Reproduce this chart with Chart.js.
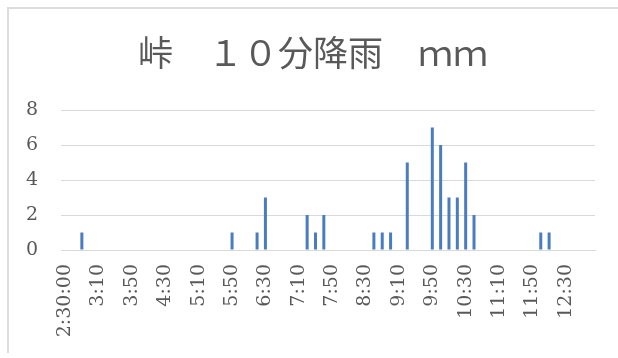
<!DOCTYPE html>
<html>
<head>
<meta charset="utf-8">
<script src="https://cdn.jsdelivr.net/npm/chart.js@4/dist/chart.umd.min.js"></script>
<style>
  html, body { margin: 0; padding: 0; background: #ffffff; overflow: hidden; }
  #wrap { position: relative; width: 618px; height: 358px; }
  #frame { position: absolute; left: 7px; top: 7px; width: 700px; height: 346px;
           border-left: 2px solid #dcdcdc; border-top: 2px solid #dcdcdc; box-sizing: border-box; }
  canvas { position: absolute; left: 0; top: 0; }
</style>
</head>
<body>
<div id="wrap">
  <div id="frame"></div>
  <canvas id="c" width="618" height="358"></canvas>
</div>
<script>
const chartTitle = "峠　１０分降雨　ｍｍ";

const categories = [
  "2:30:00","2:40","2:50","3:00","3:10","3:20","3:30","3:40",
  "3:50","4:00","4:10","4:20","4:30","4:40","4:50","5:00",
  "5:10","5:20","5:30","5:40","5:50","6:00","6:10","6:20",
  "6:30","6:40","6:50","7:00","7:10","7:20","7:30","7:40",
  "7:50","8:00","8:10","8:20","8:30","8:40","8:50","9:00",
  "9:10","9:20","9:30","9:40","9:50","10:00","10:10","10:20",
  "10:30","10:40","10:50","11:00","11:10","11:20","11:30","11:40",
  "11:50","12:00","12:10","12:20","12:30","12:40","12:50","13:00"
];

const rainfall = [
  0,0,1,0,0,0,0,0,
  0,0,0,0,0,0,0,0,
  0,0,0,0,1,0,0,1,
  3,0,0,0,0,2,1,2,
  0,0,0,0,0,1,1,1,
  0,5,0,0,7,6,3,3,
  5,2,0,0,0,0,0,0,
  0,1,1,0,0,0,0,0
];

const yTicks = [0, 2, 4, 6, 8];
const labelEvery = 4;

const grey = "#595959";
const gridGrey = "#d9d9d9";

new Chart(document.getElementById("c"), {
  type: "bar",
  data: {
    labels: categories,
    datasets: [{
      data: rainfall,
      backgroundColor: "#4a7cc0",
      borderWidth: 0,
      inflateAmount: 0,
      barThickness: 3
    }]
  },
  options: {
    responsive: false,
    animation: false,
    events: [],
    layout: { padding: { left: 8, right: 0, top: 0, bottom: 0 } },
    plugins: {
      legend: { display: false },
      tooltip: { enabled: false },
      title: {
        display: true,
        text: chartTitle,
        color: grey,
        font: { family: "'Noto Sans CJK JP', 'DejaVu Serif', serif", size: 35, weight: "normal", lineHeight: 1.2 },
        padding: { top: 32, bottom: 36 }
      }
    },
    scales: {
      x: {
        grid: { display: false, drawTicks: false },
        border: { display: true, color: gridGrey, width: 1 },
        ticks: {
          autoSkip: false,
          maxRotation: 90,
          minRotation: 90,
          padding: 14,
          color: grey,
          font: { family: "'DejaVu Serif', serif", size: 19 },
          callback: function(v, i) { return i % labelEvery === 0 ? categories[i] : ""; }
        },
        afterFit: function(scale) { scale.height = 108; scale.paddingRight = 23; }
      },
      y: {
        min: 0,
        max: 8,
        afterBuildTicks: function(scale) { scale.ticks = yTicks.map(v => ({ value: v })); },
        grid: { color: gridGrey, lineWidth: 1, drawTicks: false },
        border: { display: false },
        ticks: {
          padding: 23,
          color: grey,
          font: { family: "'DejaVu Serif', serif", size: 19 }
        },
        afterFit: function(scale) { scale.width = 53; }
      }
    }
  }
});
</script>
</body>
</html>
